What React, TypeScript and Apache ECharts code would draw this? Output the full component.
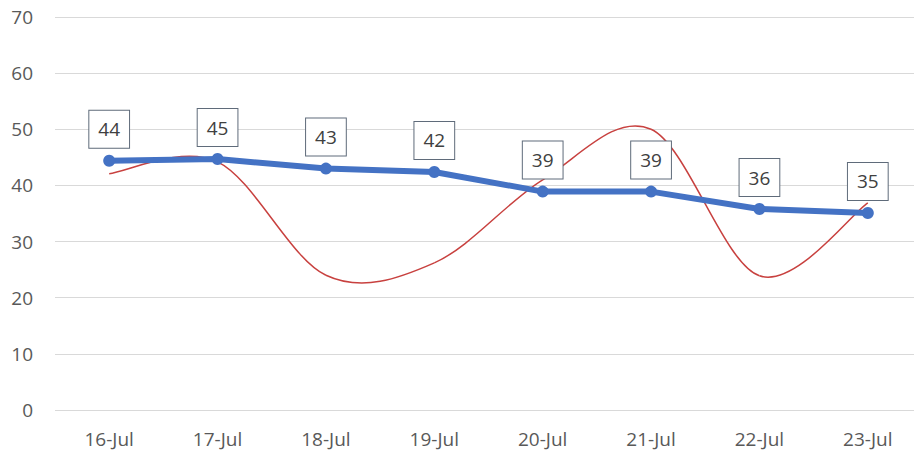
import React, { useEffect, useRef } from "react";
import * as echarts from "echarts";

const categories = ["16-Jul", "17-Jul", "18-Jul", "19-Jul", "20-Jul", "21-Jul", "22-Jul", "23-Jul"];
const blueValues = [44.4, 44.7, 43.0, 42.4, 38.9, 38.9, 35.8, 35.1];
const redValues = [42.1, 44.2, 24.0, 26.2, 41.0, 50.0, 23.9, 36.9];
const yTicks = { min: 0, max: 70, interval: 10 };

const FONT = "'Open Sans', 'Noto Sans', sans-serif";

export default function App() {
  const ref = useRef<HTMLDivElement>(null);
  useEffect(() => {
    document.body.style.margin = "0";
    const chart = echarts.init(ref.current!, null, { renderer: "svg" });
    chart.setOption({
      animation: false,
      backgroundColor: "#ffffff",
      grid: { left: 55, top: 17, right: 8, height: 393, containLabel: false },
      xAxis: {
        type: "category",
        data: categories,
        boundaryGap: true,
        axisLine: { show: false },
        axisTick: { show: false },
        axisLabel: { color: "#595959", fontSize: 19, fontFamily: FONT, margin: 19 },
      },
      yAxis: {
        type: "value",
        min: yTicks.min,
        max: yTicks.max,
        interval: yTicks.interval,
        axisLine: { show: false },
        axisTick: { show: false },
        axisLabel: { color: "#595959", fontSize: 19, fontFamily: FONT, margin: 22 },
        splitLine: { lineStyle: { color: "#d9d9d9", width: 1 } },
      },
      series: [
        {
          type: "custom",
          data: redValues.map((v, i) => [i, v]),
          z: 2,
          silent: true,
          renderItem: (params: any, api: any) => {
            const i = params.dataIndex;
            const n = redValues.length;
            if (i >= n - 1) return null;
            const pt = (k: number) => api.coord([Math.max(0, Math.min(n - 1, k)), redValues[Math.max(0, Math.min(n - 1, k))]]);
            const p0 = pt(i - 1);
            const p1 = pt(i);
            const p2 = pt(i + 1);
            const p3 = pt(i + 2);
            const t = 1 / 6;
            return {
              type: "bezierCurve",
              shape: {
                x1: p1[0],
                y1: p1[1],
                x2: p2[0],
                y2: p2[1],
                cpx1: p1[0] + (p2[0] - p0[0]) * t,
                cpy1: p1[1] + (p2[1] - p0[1]) * t,
                cpx2: p2[0] - (p3[0] - p1[0]) * t,
                cpy2: p2[1] - (p3[1] - p1[1]) * t,
              },
              style: { stroke: "#c8413f", lineWidth: 1.5, fill: null },
            };
          },
        },
        {
          type: "line",
          data: blueValues,
          symbol: "circle",
          symbolSize: 12,
          itemStyle: { color: "#4472c4" },
          lineStyle: { color: "#4472c4", width: 6 },
          z: 3,
          label: {
            show: true,
            position: "top",
            distance: 7,
            formatter: (p: any) => String(Math.round(p.value)),
            color: "#404040",
            fontSize: 19,
            fontFamily: FONT,
            backgroundColor: "#ffffff",
            borderColor: "#5f6b7a",
            borderWidth: 1,
            padding: [9, 9, 9, 9],
          },
        },
      ],
    });
    return () => chart.dispose();
  }, []);
  return (
    <div style={{ width: 914, height: 455, overflow: "hidden", position: "relative" }}>
      <div ref={ref} style={{ width: 930, height: 455 }} />
    </div>
  );
}
